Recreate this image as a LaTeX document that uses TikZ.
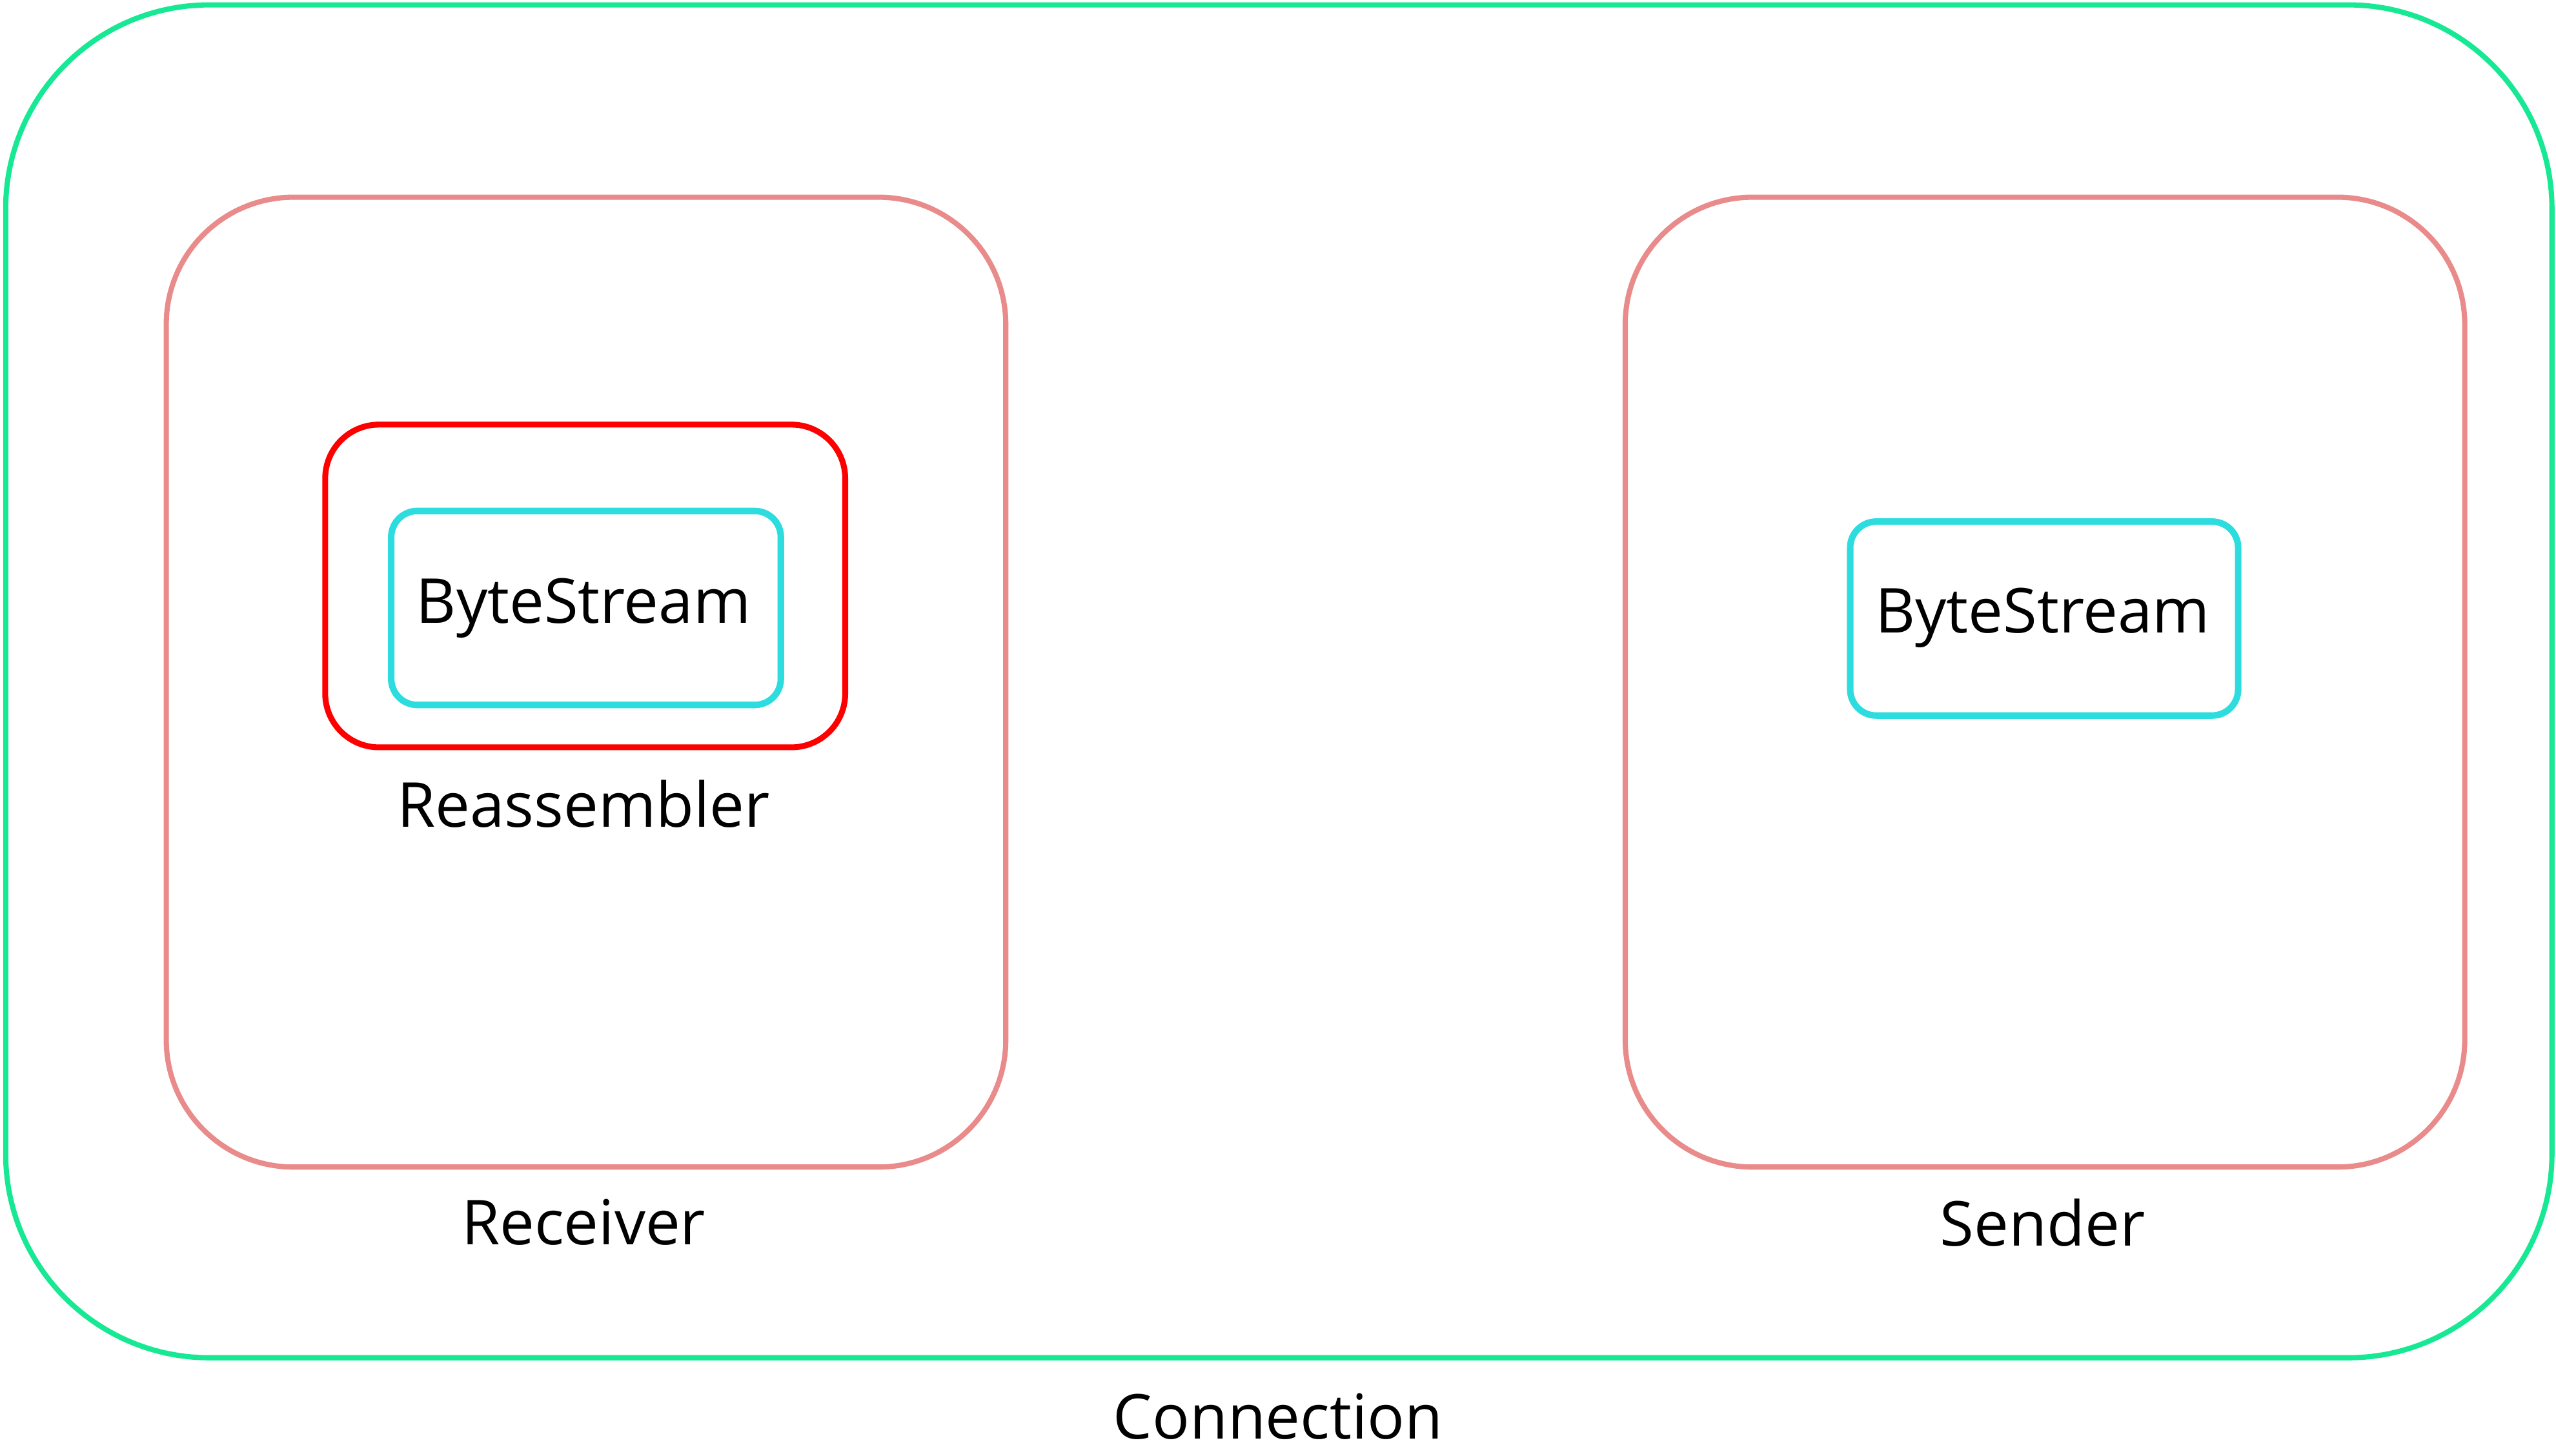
\documentclass[tikz,border=0pt]{standalone}
\usepackage{fontspec}
\setmainfont{Open Sans}
\definecolor{conngreen}{HTML}{17E893}
\definecolor{boxpink}{HTML}{E98B8B}
\definecolor{asmred}{HTML}{FF0000}
\definecolor{bscyan}{HTML}{2CDCDE}
\begin{document}
\begin{tikzpicture}[x=1pt,y=-1pt,
  box/.style 2 args={draw=#1, rounded corners=#2, line width=3.2pt, inner sep=0pt, line join=round},
  lbl/.style={font=\fontsize{38}{42}\selectfont, text=black, inner sep=0pt}]
\useasboundingbox[fill=white] (0,0) rectangle (1568,893);
% outer connection
\node[box={conngreen}{125}, minimum width=1562pt, minimum height=830pt] (conn) at (784.5,418) {};
\node[lbl] (connlbl) at (784,869) {Connection};
% receiver
\node[box={boxpink}{78}, minimum width=515pt, minimum height=595pt] (recv) at (359.5,418.5) {};
\node[lbl] (recvlbl) at (358,750) {Receiver};
% reassembler
\node[box={asmred}{33}, line width=3.6pt, minimum width=319pt, minimum height=198pt] (reasm) at (359,359.5) {};
\node[lbl] (reasmlbl) at (358,493) {Reassembler};
% bytestream (receiver)
\node[box={bscyan}{16}, line width=4pt, minimum width=239pt, minimum height=119pt] (bs1) at (359.5,373) {};
\node[lbl] (bs1lbl) at (358,373) {ByteStream};
% sender
\node[box={boxpink}{78}, minimum width=515pt, minimum height=595pt] (send) at (1254.5,418.5) {};
\node[lbl] (sendlbl) at (1253,750) {Sender};
% bytestream (sender)
\node[box={bscyan}{16}, line width=4pt, minimum width=238pt, minimum height=119pt] (bs2) at (1254,379.5) {};
\node[lbl] (bs2lbl) at (1253,379) {ByteStream};
\end{tikzpicture}
\end{document}
